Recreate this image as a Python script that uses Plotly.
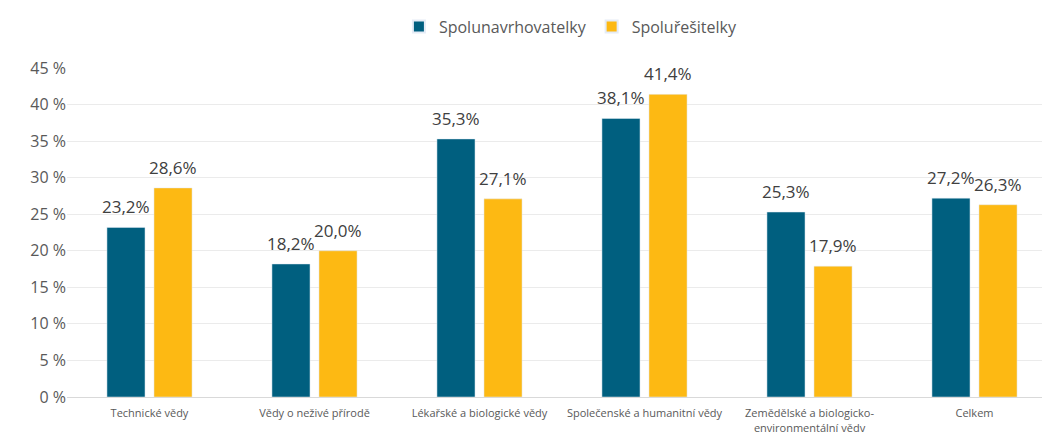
import plotly.graph_objects as go

categories = [
    "Technické vědy",
    "Vědy o neživé přírodě",
    "Lékařské a biologické vědy",
    "Společenské a humanitní vědy",
    "Zemědělské a biologicko-<br>environmentální vědy",
    "Celkem",
]
spolunavrhovatelky = [23.2, 18.2, 35.3, 38.1, 25.3, 27.2]
spoluresitelky = [28.6, 20.0, 27.1, 41.4, 17.9, 26.3]
y_ticks = [0, 5, 10, 15, 20, 25, 30, 35, 40, 45]


def fmt(v):
    return f"{v:.1f}%".replace(".", ",")


fig = go.Figure()
fig.add_trace(go.Bar(
    x=categories, y=spolunavrhovatelky, name="Spolunavrhovatelky",
    marker_color="#005F7F",
))
fig.add_trace(go.Bar(
    x=categories, y=spoluresitelky, name="Spoluřešitelky",
    marker_color="#FDB913",
))

# value labels, placed a bit higher above the bars than plotly's "outside" text
for series, shift in [(spolunavrhovatelky, -23.5), (spoluresitelky, 23.5)]:
    for cat, v in zip(categories, series):
        fig.add_annotation(
            x=cat, y=v, text=fmt(v), showarrow=False,
            xshift=shift, yshift=7, yanchor="bottom",
            font=dict(size=17, color="#404040"),
        )

# page body adds an 8px offset, margins are set to compensate
fig.update_layout(
    width=1050, height=432,
    font_family="Open Sans",
    plot_bgcolor="white", paper_bgcolor="white",
    barmode="group", bargap=0.43, bargroupgap=0.19,
    margin=dict(l=59, r=1, t=56, b=43),
    legend=dict(
        orientation="h", x=0.509, xanchor="center", y=1.126, yanchor="middle",
        font=dict(size=16, color="#595959"), itemsizing="constant",
    ),
)
fig.update_yaxes(
    range=[0, 45], tickvals=y_ticks, ticktext=[f"{v} %" for v in y_ticks],
    showgrid=True, gridcolor="#EBEBEB", zeroline=False,
    tickfont=dict(size=16, color="#595959"), ticklen=0, automargin=False,
)
fig.update_xaxes(
    automargin=False, ticklabelstandoff=6,
    showline=True, linecolor="#D9D9D9", linewidth=1,
    tickfont=dict(size=11, color="#595959"),
)

fig.write_html("out.html")
